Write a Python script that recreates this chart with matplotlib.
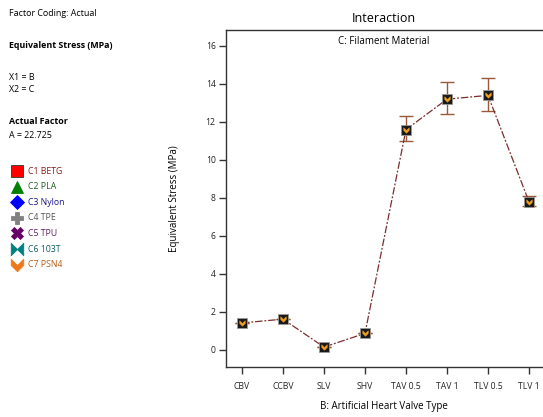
import matplotlib
matplotlib.use("Agg")
import matplotlib.pyplot as plt
from matplotlib.path import Path
import numpy as np

plt.rcParams['font.family'] = ['Open Sans', 'DejaVu Sans']

categories = ["CBV", "CCBV", "SLV", "SHV", "TAV 0.5", "TAV 1", "TLV 0.5", "TLV 1"]
stress = [1.42, 1.62, 0.15, 0.87, 11.6, 13.2, 13.4, 7.8]
err_low = [1.42, 1.62, 0.15, 0.87, 11.0, 12.4, 12.6, 7.55]
err_high = [1.42, 1.62, 0.15, 0.87, 12.3, 14.1, 14.3, 8.1]
yticks = [0, 2, 4, 6, 8, 10, 12, 14, 16]

legend_labels = ["C1 BETG", "C2 PLA", "C3 Nylon", "C4 TPE", "C5 TPU", "C6 103T", "C7 PSN4"]
legend_marker_colors = ["#ff0000", "#008000", "#0000ff", "#808080", "#660066", "#008080", "#ec7a1c"]
legend_text_colors = ["#8b1a1a", "#1f5e1f", "#1a1a8b", "#555555", "#602060", "#106060", "#b85a10"]

W, H = 543, 417
fig = plt.figure(figsize=(W / 100, H / 100), dpi=100)

chevron = Path([(-1, 1), (0, 0), (1, 1), (1, 0), (0, -1), (-1, 0), (-1, 1)],
               [Path.MOVETO] + [Path.LINETO] * 5 + [Path.CLOSEPOLY])
bowtie = Path([(-1, 1), (0, 0), (1, 1), (1, -1), (0, 0), (-1, -1), (-1, 1)],
              [Path.MOVETO] + [Path.LINETO] * 5 + [Path.CLOSEPOLY])

left_px, right_px, top_px, bottom_px = 226, 565, 30, 367
ax = fig.add_axes([left_px / W, 1 - bottom_px / H, (right_px - left_px) / W, (bottom_px - top_px) / H])
x = np.arange(len(categories))
yerr = [np.array(stress) - np.array(err_low), np.array(err_high) - np.array(stress)]
ax.errorbar(x, stress, yerr=yerr, fmt='none', ecolor='#9a5a3a', elinewidth=1.0, capsize=5, capthick=1.0, zorder=2)
ax.plot(x, stress, linestyle=(0, (6, 1.5, 1.5, 1.5)), color='#7a2e2e', linewidth=0.9, zorder=3)
ax.plot(x, stress, linestyle='none', marker='s', markersize=6.5, markerfacecolor='#1a1a1a',
        markeredgecolor='#999999', markeredgewidth=0.6, zorder=4)
ax.plot(x, stress, linestyle='none', marker=chevron, markersize=4, markerfacecolor='#f0a020',
        markeredgecolor='#f0a020', markeredgewidth=0.3, zorder=5)

ax.set_xlim(-0.39, -0.39 + (right_px - left_px) / 41.0)
ax.set_ylim(-0.9, (350 - 30) / 19.0)
ax.set_xticks(x)
ax.set_xticklabels(categories)
ax.set_yticks(yticks)
ax.tick_params(axis='both', direction='out', length=5, width=1, labelsize=6.2, color='#333333',
               labelcolor='#222222')
ax.tick_params(axis='y', pad=2.5)
ax.tick_params(axis='x', pad=6)
for s in ['top', 'right', 'left', 'bottom']:
    ax.spines[s].set_color('#333333')
    ax.spines[s].set_linewidth(1.0)
ax.set_ylabel("Equivalent Stress (MPa)", fontsize=7)
ax.yaxis.set_label_coords((180 - left_px) / (right_px - left_px), 0.5)

fig.text(384 / W, 1 - 19 / H, "Interaction", ha='center', va='center', fontsize=9)
fig.text(384 / W, 1 - 42 / H, "C: Filament Material", ha='center', va='center', fontsize=7)
fig.text(384 / W, 1 - 407 / H, "B: Artificial Heart Valve Type", ha='center', va='center', fontsize=7)

fs = 6.4
fig.text(9 / W, 1 - 13 / H, "Factor Coding: Actual", ha='left', va='center', fontsize=fs)
fig.text(9 / W, 1 - 45 / H, "Equivalent Stress (MPa)", ha='left', va='center', fontsize=fs, fontweight='bold')
fig.text(9 / W, 1 - 77 / H, "X1 = B", ha='left', va='center', fontsize=fs)
fig.text(9 / W, 1 - 90 / H, "X2 = C", ha='left', va='center', fontsize=fs)
fig.text(9 / W, 1 - 122 / H, "Actual Factor", ha='left', va='center', fontsize=fs, fontweight='bold')
fig.text(9 / W, 1 - 136 / H, "A = 22.725", ha='left', va='center', fontsize=fs)

ov = fig.add_axes([0, 0, 1, 1])
ov.set_xlim(0, W)
ov.set_ylim(H, 0)
ov.axis('off')
markers = ['s', '^', 'D', 'P', 'X', bowtie, chevron]
sizes = [9, 9, 7.5, 9, 9, 9, 9]
for i, (lab, mc, tc, mk, ms) in enumerate(zip(legend_labels, legend_marker_colors, legend_text_colors, markers, sizes)):
    yy = 171 + i * 15.6
    ov.plot([17], [yy], marker=mk, markersize=ms, color=mc, markeredgecolor='#333333' if i == 0 else mc,
            markeredgewidth=0.6, linestyle='none')
    ov.text(28, yy, lab, ha='left', va='center', fontsize=6.3, color=tc)

fig.savefig("out.png", dpi=100)
